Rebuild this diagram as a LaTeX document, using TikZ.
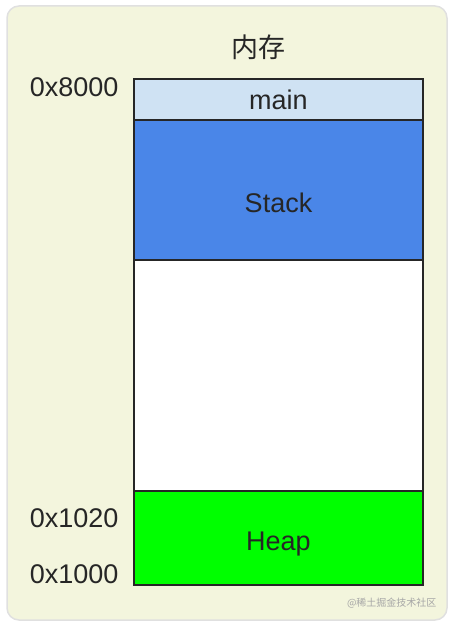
\documentclass[tikz,border=0pt]{standalone}
\usepackage{fontspec}
\setmainfont{Liberation Sans}
\newfontfamily\cjk{Noto Sans CJK SC}
\usetikzlibrary{positioning}
\definecolor{bgpale}{HTML}{F3F5DD}
\definecolor{mainblue}{HTML}{CFE2F3}
\definecolor{stackblue}{HTML}{4A86E8}
\definecolor{heapgreen}{HTML}{00FF00}

\begin{document}
\begin{tikzpicture}[x=1pt,y=-1pt,node distance=0pt,every node/.style={font=\fontsize{27}{32}\selectfont,text=black!85},
  seg/.style={draw=black!85,line width=1.8pt,outer sep=0pt,inner sep=0pt,minimum width=289pt}]
\useasboundingbox (0,0) rectangle (453,623);
\draw[rounded corners=12pt,fill=bgpale,draw=black!12,line width=1.5pt] (7,6) rectangle (447,620);
\node (title) at (258,47) {\cjk 内存};
\node[seg,fill=mainblue,minimum height=41pt] (main) at (278.5,99.5) {main};
\node[seg,fill=stackblue,minimum height=140pt,below=of main,text height=45pt] (stack) {Stack};
\node[seg,fill=white,minimum height=231pt,below=of stack] (free) {};
\node[seg,fill=heapgreen,minimum height=94pt,below=of free,text height=30pt] (heap) {Heap};
\node[anchor=base east] (a8000) at (122,97) {0x8000};
\node[anchor=base east] (a1020) at (122,527) {0x1020};
\node[anchor=base east] (a1000) at (122,583) {0x1000};
\node[anchor=east,font=\cjk\fontsize{10}{12}\selectfont,text=black!35] (mark) at (440,603) {@稀土掘金技术社区};
\end{tikzpicture}
\end{document}
